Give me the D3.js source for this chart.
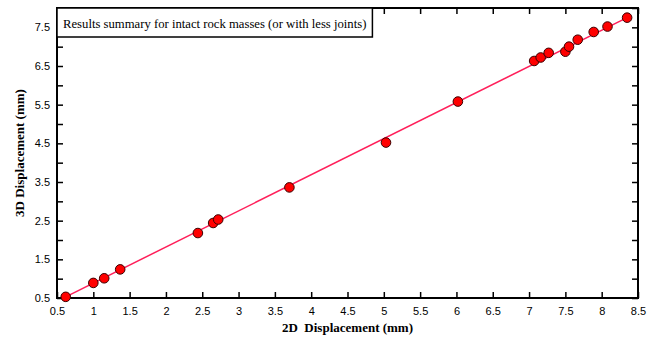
<!DOCTYPE html>
<html>
<head>
<meta charset="utf-8">
<script src="https://cdn.jsdelivr.net/npm/d3@7"></script>
<style>
  body { margin: 0; background: #fff; }
  .tick text { font-family: "Liberation Sans", Arial, sans-serif; font-size: 11px; fill: #000; }
  .tick line { stroke: #000; stroke-width: 1.5; }
</style>
</head>
<body>
<div id="chart-area"></div>
<script>
const width = 654,
  height = 337;

// 2D vs 3D displacement (mm)
const disp2D = [0.62, 1.00, 1.15, 1.37, 2.44, 2.65, 2.72, 3.70, 5.03, 6.02,
  7.07, 7.16, 7.27, 7.50, 7.55, 7.67, 7.89, 8.08, 8.35];
const disp3D = [0.53, 0.89, 1.01, 1.24, 2.18, 2.44, 2.53, 3.36, 4.52, 5.58,
  6.63, 6.72, 6.84, 6.87, 7.00, 7.18, 7.38, 7.52, 7.75];
// fitted line end points
const fitX = [0.62, 8.35];
const fitY = [0.53, 7.75];

const xTicks = d3.range(0.5, 8.51, 0.5);
const yTicks = d3.range(0.5, 8.01, 0.5);
const yLabels = [0.5, 1.5, 2.5, 3.5, 4.5, 5.5, 6.5, 7.5];

const titleText = "Results summary for intact rock masses (or with less joints)";

const margin = { left: 57, right: 16, top: 8, bottom: 39 };
const iw = width - margin.left - margin.right,
  ih = height - margin.top - margin.bottom;

const x = d3.scaleLinear().domain([0.5, 8.5]).range([0, iw]);
const y = d3.scaleLinear().domain([0.5, 8]).range([ih, 0]);

const svg = d3.select("#chart-area").append("svg")
  .attr("width", width)
  .attr("height", height);

const g = svg.append("g").attr("transform", `translate(${margin.left},${margin.top})`);

const fmt = d => d3.format("")(+d.toFixed(1));

// bottom axis, ticks inward
g.append("g")
  .attr("transform", `translate(0,${ih})`)
  .call(d3.axisBottom(x).tickValues(xTicks).tickSize(-6).tickPadding(9).tickFormat(fmt))
  .call(a => a.select(".domain").remove());

// top axis
g.append("g")
  .call(d3.axisTop(x).tickValues(xTicks).tickSize(-6).tickFormat(""))
  .call(a => a.select(".domain").remove());

// left axis
g.append("g")
  .call(d3.axisLeft(y).tickValues(yTicks).tickSize(-6).tickPadding(7)
    .tickFormat(d => yLabels.some(v => Math.abs(v - d) < 1e-6) ? fmt(d) : ""))
  .call(a => a.select(".domain").remove());

// right axis
g.append("g")
  .attr("transform", `translate(${iw},0)`)
  .call(d3.axisRight(y).tickValues(yTicks).tickSize(-6).tickFormat(""))
  .call(a => a.select(".domain").remove());

// frame
g.append("rect")
  .attr("width", iw)
  .attr("height", ih)
  .attr("fill", "none")
  .attr("stroke", "#000")
  .attr("stroke-width", 2);

// fit line
g.append("line")
  .attr("x1", x(fitX[0])).attr("y1", y(fitY[0]))
  .attr("x2", x(fitX[1])).attr("y2", y(fitY[1]))
  .attr("stroke", "#ff1f5a")
  .attr("stroke-width", 1.5);

// points
g.selectAll("circle.pt")
  .data(disp2D.map((d, i) => [d, disp3D[i]]))
  .join("circle")
  .attr("class", "pt")
  .attr("cx", d => x(d[0]))
  .attr("cy", d => y(d[1]))
  .attr("r", 4.8)
  .attr("fill", "#ff0000")
  .attr("stroke", "#3a0000")
  .attr("stroke-width", 1);

// title box
const tb = g.append("g");
const tt = tb.append("text")
  .attr("x", 6)
  .attr("y", 19.5)
  .attr("font-family", "'Liberation Serif', 'Times New Roman', serif")
  .attr("font-size", 12.7)
  .text(titleText);
const tw = tt.node().getComputedTextLength();
tb.insert("rect", "text")
  .attr("x", 0).attr("y", 0)
  .attr("width", tw + 12)
  .attr("height", 29)
  .attr("fill", "#fff")
  .attr("stroke", "#000")
  .attr("stroke-width", 1.5);

// axis titles
svg.append("text")
  .attr("x", margin.left + iw / 2)
  .attr("y", 332)
  .attr("text-anchor", "middle")
  .attr("font-family", "'Liberation Serif', 'Times New Roman', serif")
  .attr("font-weight", "bold")
  .attr("font-size", 13)
  .attr("xml:space", "preserve")
  .text("2D  Displacement (mm)");

svg.append("text")
  .attr("transform", `translate(24,${margin.top + ih / 2}) rotate(-90)`)
  .attr("text-anchor", "middle")
  .attr("font-family", "'Liberation Serif', 'Times New Roman', serif")
  .attr("font-weight", "bold")
  .attr("font-size", 13)
  .text("3D Displacement (mm)");
</script>
</body>
</html>
